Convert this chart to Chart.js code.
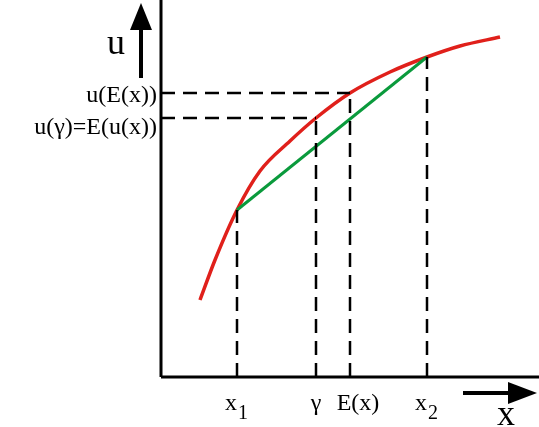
<!DOCTYPE html>
<html>
<head>
<meta charset="utf-8">
<script src="https://cdn.jsdelivr.net/npm/chart.js@4.4.0/dist/chart.umd.min.js"></script>
<style>
  html, body { margin: 0; padding: 0; background: #fff; }
  #wrap { width: 539px; height: 427px; }
</style>
</head>
<body>
<div id="wrap"><canvas id="grafico"></canvas></div>
<script>
// coordenadas do desenho (x para a direita, u para cima, origem no canto inferior esquerdo)
const curvaX = [200, 215, 237, 260, 290, 316, 350, 390, 427, 460, 500];
const curvaU = [127, 167, 217, 256, 286, 309, 334, 355, 370, 381, 390];
const retaX = [237, 427];
const retaU = [217, 370];
const guiasX = [237, 316, 350, 427];
const guiasU = [217, 309, 334, 370];
const eixoX0 = 161;
const eixoU0 = 50;
const rotulosX = ["x1", "γ", "E(x)", "x2"];
const rotulosU = ["u(E(x))", "u(γ)=E(u(x))"];

const pontos = (xs, us) => xs.map((v, i) => ({ x: v, y: us[i] }));

const tracejado = [];
guiasX.forEach((v, i) => {
  tracejado.push({ data: [{ x: v, y: eixoU0 }, { x: v, y: guiasU[i] }] });
});
tracejado.push({ data: [{ x: eixoX0, y: guiasU[2] }, { x: guiasX[2], y: guiasU[2] }] });
tracejado.push({ data: [{ x: eixoX0, y: guiasU[1] }, { x: guiasX[1], y: guiasU[1] }] });

const datasets = [
  ...tracejado.map(d => ({ ...d, borderColor: "#000", borderWidth: 2.5, borderDash: [14, 8], pointRadius: 0 })),
  { data: [{ x: eixoX0, y: eixoU0 }, { x: eixoX0, y: 427 }], borderColor: "#000", borderWidth: 3, pointRadius: 0 },
  { data: [{ x: eixoX0, y: eixoU0 }, { x: 539, y: eixoU0 }], borderColor: "#000", borderWidth: 3, pointRadius: 0 },
  { data: pontos(retaX, retaU), borderColor: "#0a9a3c", borderWidth: 3, pointRadius: 0 },
  { data: pontos(curvaX, curvaU), borderColor: "#e0201b", borderWidth: 3.5, pointRadius: 0, cubicInterpolationMode: "monotone" },
];

// setas e textos
const extras = {
  id: "extras",
  afterDatasetsDraw(chart) {
    const ctx = chart.ctx;
    const sx = chart.scales.x, sy = chart.scales.y;
    ctx.save();
    ctx.fillStyle = "#000";
    ctx.strokeStyle = "#000";
    ctx.lineWidth = 4;
    // seta u
    ctx.beginPath();
    ctx.moveTo(sx.getPixelForValue(141), sy.getPixelForValue(349));
    ctx.lineTo(sx.getPixelForValue(141), sy.getPixelForValue(397));
    ctx.stroke();
    ctx.beginPath();
    ctx.moveTo(sx.getPixelForValue(130), sy.getPixelForValue(397));
    ctx.lineTo(sx.getPixelForValue(152), sy.getPixelForValue(397));
    ctx.lineTo(sx.getPixelForValue(141), sy.getPixelForValue(424));
    ctx.closePath();
    ctx.fill();
    // seta x
    ctx.beginPath();
    ctx.moveTo(sx.getPixelForValue(463), sy.getPixelForValue(34));
    ctx.lineTo(sx.getPixelForValue(510), sy.getPixelForValue(34));
    ctx.stroke();
    ctx.beginPath();
    ctx.moveTo(sx.getPixelForValue(508), sy.getPixelForValue(45));
    ctx.lineTo(sx.getPixelForValue(508), sy.getPixelForValue(23));
    ctx.lineTo(sx.getPixelForValue(537), sy.getPixelForValue(34));
    ctx.closePath();
    ctx.fill();

    ctx.font = "24px 'Liberation Serif'";
    ctx.textBaseline = "alphabetic";
    ctx.textAlign = "right";
    ctx.fillText(rotulosU[0], sx.getPixelForValue(157), sy.getPixelForValue(guiasU[2]) + 9);
    ctx.fillText(rotulosU[1], sx.getPixelForValue(157), sy.getPixelForValue(guiasU[1]) + 16);
    ctx.font = "36px 'Liberation Serif'";
    ctx.textAlign = "center";
    ctx.fillText("u", sx.getPixelForValue(116), sy.getPixelForValue(373));
    ctx.fillText("x", sx.getPixelForValue(506), sy.getPixelForValue(2));

    ctx.font = "24px 'Liberation Serif'";
    const base = sy.getPixelForValue(eixoU0) + 33;
    const sub = (txt, s, cx) => {
      ctx.textAlign = "left";
      const w = ctx.measureText(txt).width;
      ctx.font = "20px 'Liberation Serif'";
      const ws = ctx.measureText(s).width;
      ctx.font = "24px 'Liberation Serif'";
      const x0 = cx - (w + ws) / 2 - 1;
      ctx.fillText(txt, x0, base);
      ctx.font = "20px 'Liberation Serif'";
      ctx.fillText(s, x0 + w + 1, base + 9);
      ctx.font = "24px 'Liberation Serif'";
    };
    sub("x", "1", sx.getPixelForValue(guiasX[0]));
    sub("x", "2", sx.getPixelForValue(guiasX[3]));
    ctx.textAlign = "center";
    ctx.fillText(rotulosX[1], sx.getPixelForValue(guiasX[1]), base);
    ctx.fillText(rotulosX[2], sx.getPixelForValue(guiasX[2]) + 8, base);
    ctx.restore();
  }
};

new Chart(document.getElementById("grafico"), {
  type: "line",
  data: { datasets },
  options: {
    responsive: true,
    maintainAspectRatio: false,
    animation: false,
    layout: { padding: 0 },
    plugins: { legend: { display: false }, tooltip: { enabled: false } },
    scales: {
      x: { type: "linear", min: 0, max: 539, display: false },
      y: { type: "linear", min: 0, max: 427, display: false },
    },
  },
  plugins: [extras],
});
</script>
</body>
</html>
